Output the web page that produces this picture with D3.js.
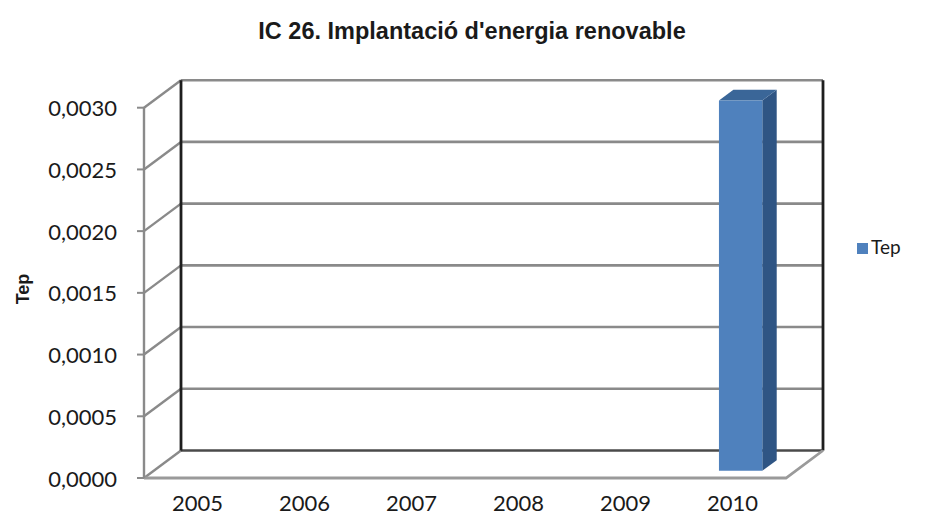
<!DOCTYPE html>
<html>
<head>
<meta charset="utf-8">
<script src="https://cdn.jsdelivr.net/npm/d3@7"></script>
<style>
  html, body { margin: 0; padding: 0; background: #fff; }
  svg { display: block; }
</style>
</head>
<body>
<svg id="chart" width="944" height="522"></svg>
<script>
// Data
const categories = ["2005", "2006", "2007", "2008", "2009", "2010"];
const tepValues = [0, 0, 0, 0, 0, 0.003];
const yTicks = [0, 0.0005, 0.001, 0.0015, 0.002, 0.0025, 0.003];
const seriesName = "Tep";
const chartTitle = "IC 26. Implantació d'energia renovable";
const yAxisTitle = "Tep";

const svg = d3.select("#chart");

// Front plane of the 3D box and its depth offset
const front = { left: 144, right: 786, top: 107.7, bottom: 478 };
const depth = { dx: 37, dy: -27.5 };

const x = d3.scaleBand().domain(categories).range([front.left, front.right]).paddingInner(0).paddingOuter(0);
const y = d3.scaleLinear().domain([0, 0.003]).range([front.bottom, front.top]);

// Project a point given at the front plane to a fraction of the depth
const P = (px, py, f) => [px + depth.dx * f, py + depth.dy * f];

const gridColor = "#8a8a8a";
const wallEdge = "#1e1e1e";
const fmt = v => d3.format(".4f")(v).replace(".", ",");

// Back wall gridlines
const g = svg.append("g");
yTicks.forEach(v => {
  if (v === 0) return;
  const a = P(front.left, y(v), 1), b = P(front.right, y(v), 1);
  g.append("line").attr("x1", a[0]).attr("y1", a[1]).attr("x2", b[0]).attr("y2", b[1])
    .attr("stroke", gridColor).attr("stroke-width", 2.6);
});
// Side wall gridlines (diagonals from front axis to back wall)
yTicks.forEach(v => {
  const a = P(front.left, y(v), 0), b = P(front.left, y(v), 1);
  g.append("line").attr("x1", a[0]).attr("y1", a[1]).attr("x2", b[0]).attr("y2", b[1])
    .attr("stroke", gridColor).attr("stroke-width", 2.4);
});
// Back wall bottom edge
{
  const a = P(front.left, y(0), 1), b = P(front.right, y(0), 1);
  g.append("line").attr("x1", a[0]).attr("y1", a[1]).attr("x2", b[0]).attr("y2", b[1])
    .attr("stroke", "#4a4a4a").attr("stroke-width", 2.6);
}
// Back wall vertical edges
[front.left, front.right].forEach(px => {
  const a = P(px, y(0), 1), b = P(px, y(0.003), 1);
  g.append("line").attr("x1", a[0]).attr("y1", a[1]).attr("x2", b[0]).attr("y2", b[1])
    .attr("stroke", wallEdge).attr("stroke-width", 2.8);
});
// Floor outline: front edge and right diagonal
{
  const a = P(front.left, y(0), 0), b = P(front.right, y(0), 0), c = P(front.right, y(0), 1);
  g.append("path").attr("d", d3.line()([a, b, c])).attr("fill", "none")
    .attr("stroke", "#9a9a9a").attr("stroke-width", 2.8);
}

// Vertical axis at the front
const axisG = svg.append("g");
axisG.append("line").attr("x1", front.left).attr("x2", front.left)
  .attr("y1", y(0.003)).attr("y2", y(0)).attr("stroke", gridColor).attr("stroke-width", 2.4);
yTicks.forEach(v => {
  axisG.append("line").attr("x1", front.left - 7).attr("x2", front.left)
    .attr("y1", y(v)).attr("y2", y(v)).attr("stroke", gridColor).attr("stroke-width", 2);
  axisG.append("text").attr("x", 117).attr("y", y(v) + 8.5)
    .attr("text-anchor", "end").attr("font-family", "Lato, 'Open Sans', sans-serif")
    .attr("font-size", 22).attr("fill", "#1a1a1a").text(fmt(v));
});

// Category labels
categories.forEach(c => {
  svg.append("text").attr("x", x(c) + x.bandwidth() / 2).attr("y", 511)
    .attr("text-anchor", "middle").attr("font-family", "Lato, 'Open Sans', sans-serif")
    .attr("font-size", 22).attr("fill", "#1a1a1a").text(c);
});

// 3D bars
const barW = x.bandwidth() * 0.405;
const d0 = 0.26, d1 = 0.65;
const bars = svg.append("g");
categories.forEach((c, i) => {
  const v = tepValues[i];
  if (!v) return;
  const xl = x(c) + (x.bandwidth() - barW) / 2 - 1.5;
  const xr = xl + barW;
  const yt = y(v), yb = y(0);
  const fTL = P(xl, yt, d0), fTR = P(xr, yt, d0), fBR = P(xr, yb, d0), fBL = P(xl, yb, d0);
  const bTL = P(xl, yt, d1), bTR = P(xr, yt, d1), bBR = P(xr, yb, d1);
  bars.append("path").attr("d", d3.line()([fTR, bTR, bBR, fBR]) + "Z").attr("fill", "#2f5584");
  bars.append("path").attr("d", d3.line()([fTL, bTL, bTR, fTR]) + "Z").attr("fill", "#3a6698");
  bars.append("path").attr("d", d3.line()([fTL, fTR, fBR, fBL]) + "Z").attr("fill", "#4f81bd");
});

// Title
svg.append("text").attr("x", 472).attr("y", 39).attr("text-anchor", "middle")
  .attr("font-family", "'Liberation Sans', Arial, sans-serif").attr("font-weight", "bold")
  .attr("font-size", 23.5).attr("fill", "#1a1a1a").text(chartTitle);

// Y axis title
svg.append("text").attr("transform", "translate(29,289) rotate(-90)").attr("text-anchor", "middle")
  .attr("font-family", "'Liberation Sans', Arial, sans-serif").attr("font-weight", "bold")
  .attr("font-size", 18).attr("fill", "#1a1a1a").text(yAxisTitle);

// Legend
const lg = svg.append("g").attr("transform", "translate(857,243)");
lg.append("rect").attr("width", 11).attr("height", 11).attr("fill", "#4f81bd");
lg.append("text").attr("x", 14).attr("y", 11).attr("font-family", "Lato, 'Open Sans', sans-serif")
  .attr("font-size", 19).attr("fill", "#1a1a1a").text(seriesName);
</script>
</body>
</html>
